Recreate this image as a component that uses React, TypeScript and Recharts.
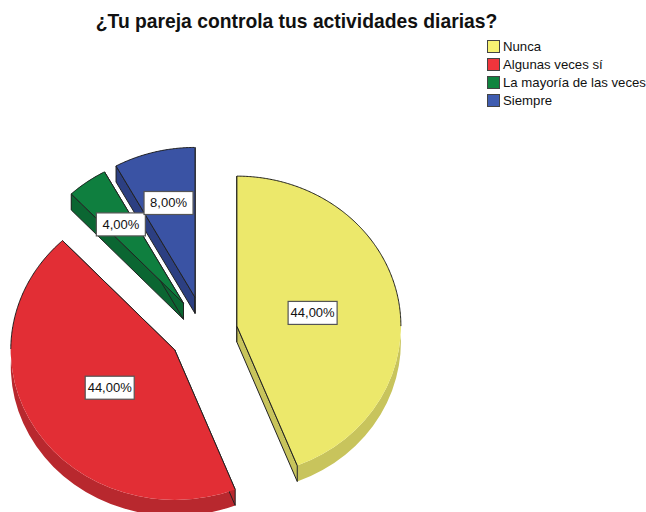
import React from "react";
import { PieChart, Pie, Legend } from "recharts";

const categories = ["Nunca", "Algunas veces sí", "La mayoría de las veces", "Siempre"];
const shares = [44, 44, 4, 8];
const topColors = ["#ece86b", "#e22e35", "#0f7f3f", "#3a53a4"];
const wallColors = ["#c8c45c", "#b8282e", "#0b6632", "#2c3f82"];
const legendColors = ["#f7f272", "#f0353c", "#10843f", "#3f5cb0"];
const titleText = "¿Tu pareja controla tus actividades diarias?";

const tableRows = categories.map((name, i) => ({ name, value: shares[i], fill: topColors[i], wall: wallColors[i] }));

const RAD = Math.PI / 180;
const Y_SCALE = 150 / 164;
const EXPLODE = 34;
const DEPTH = 16;
const FONT = "'Liberation Sans', Arial, sans-serif";

const offset = (mid: number) => {
  const up = -EXPLODE * Math.sin(mid * RAD);
  return { x: EXPLODE * Math.cos(mid * RAD), y: up * (up < 0 ? 1.08 : 0.93) };
};

function Slice(p: any) {
  const mid = (p.startAngle + p.endAngle) / 2;
  const o = offset(mid);
  const cx = p.cx + o.x;
  const cy = p.cy + o.y;
  const rx = p.outerRadius;
  const ry = rx * Y_SCALE;
  const at = (a: number) => [cx + rx * Math.cos(a * RAD), cy - ry * Math.sin(a * RAD)];
  const [sx, sy] = at(p.startAngle);
  const [ex, ey] = at(p.endAngle);
  const large = p.startAngle - p.endAngle > 180 ? 1 : 0;
  const top = `M${cx},${cy}L${sx},${sy}A${rx},${ry} 0 ${large} 1 ${ex},${ey}Z`;
  const band = `M${sx},${sy}A${rx},${ry} 0 ${large} 1 ${ex},${ey}L${ex},${ey + DEPTH}A${rx},${ry} 0 ${large} 0 ${sx},${sy + DEPTH}Z`;
  const edgeA = `M${cx},${cy}L${sx},${sy}L${sx},${sy + DEPTH}L${cx},${cy + DEPTH}Z`;
  const edgeB = `M${cx},${cy}L${ex},${ey}L${ex},${ey + DEPTH}L${cx},${cy + DEPTH}Z`;
  const spokes = `M${sx},${sy}L${cx},${cy}L${ex},${ey}`;
  // The rim is only outlined on the upper half of the ellipse; the lower half meets the wall.
  const rim: string[] = [];
  for (let a = p.startAngle; a >= p.endAngle; a -= 0.5) {
    if (Math.sin(a * RAD) >= 0) {
      const [x, y] = at(a);
      rim.push(`${x},${y}`);
    }
  }
  return (
    <g>
      <path d={band} fill={p.wall} stroke="none" />
      <path d={edgeA} fill={p.wall} stroke="#222" strokeWidth={1} strokeLinejoin="round" />
      <path d={edgeB} fill={p.wall} stroke="#222" strokeWidth={1} strokeLinejoin="round" />
      <path d={top} fill={p.fill} stroke="none" />
      <path d={spokes} fill="none" stroke="#222" strokeWidth={1} strokeLinejoin="round" />
      <polyline points={rim.join(" ")} fill="none" stroke="#222" strokeWidth={1} />
    </g>
  );
}

function ValueLabel(p: any) {
  const o = offset(p.midAngle);
  const k = p.value >= 20 ? 0.47 : 0.65;
  const x = p.cx + o.x + p.outerRadius * k * Math.cos(p.midAngle * RAD);
  const y = p.cy + o.y - p.outerRadius * Y_SCALE * k * Math.sin(p.midAngle * RAD);
  const text = p.value.toFixed(2).replace(".", ",") + "%";
  return (
    <g>
      <rect x={x - 24.5} y={y - 11.5} width={49} height={23} fill="#fff" stroke="#555" strokeWidth={1.2} />
      <text x={x} y={y + 4.5} textAnchor="middle" fontFamily={FONT} fontSize={13} fill="#111">
        {text}
      </text>
    </g>
  );
}

function LegendBox() {
  return (
    <div style={{ fontFamily: FONT, fontSize: 13.2, color: "#111" }}>
      {categories.map((c, i) => (
        <div key={c} style={{ display: "flex", alignItems: "center", height: 18, whiteSpace: "nowrap" }}>
          <span
            style={{
              width: 11,
              height: 11,
              background: legendColors[i],
              border: "1px solid #444",
              marginRight: 3,
              flex: "none",
            }}
          />
          {c}
        </div>
      ))}
    </div>
  );
}

export default function App() {
  return (
    <div style={{ position: "absolute", left: 0, top: 0, width: 646, height: 512, background: "#fff" }}>
      <PieChart width={646} height={512} margin={{ top: 0, right: 0, bottom: 0, left: 0 }}>
        <text x={296.5} y={28} textAnchor="middle" fontFamily={FONT} fontSize={19.3} fontWeight="bold" fill="#111">
          {titleText}
        </text>
        <Pie
          data={tableRows}
          dataKey="value"
          nameKey="name"
          cx={203.5}
          cy={333}
          innerRadius={0}
          outerRadius={164}
          startAngle={90}
          endAngle={-270}
          stroke="none"
          isAnimationActive={false}
          shape={Slice}
          label={ValueLabel}
          labelLine={false}
        />
        <Legend
          layout="vertical"
          align="center"
          verticalAlign="middle"
          wrapperStyle={{ position: "absolute", left: 487, top: 37, width: 165 }}
          content={LegendBox}
        />
      </PieChart>
    </div>
  );
}
